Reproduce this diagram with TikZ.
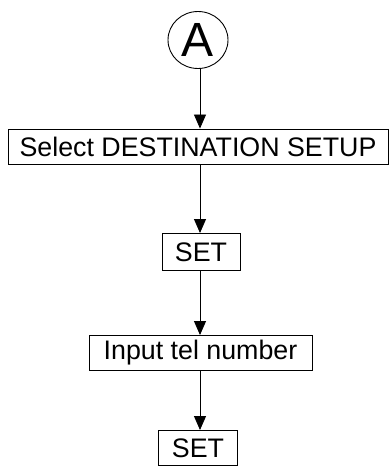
\documentclass[tikz,border=0pt]{standalone}
\usepackage{fontspec}
\setmainfont{Liberation Sans}
\usetikzlibrary{positioning,arrows.meta,shapes.geometric}

\begin{document}
\begin{tikzpicture}[x=1pt,y=1pt,
    stepbox/.style={draw,line width=0.9pt,inner sep=0pt,minimum height=35pt,font=\fontsize{26.8}{30}\selectfont},
    flow/.style={-{Triangle[width=12pt,length=14pt]},line width=0.9pt}]
    \useasboundingbox (0,0) rectangle (390,469);
    % start connector
    \node[draw,ellipse,line width=0.9pt,minimum width=60pt,minimum height=57pt,inner sep=0pt,font=\fontsize{48}{52}\selectfont] (start) at (198,429) {A};
    % steps
    \node[stepbox,minimum width=380pt] (select) at (198,322.5) {Select DESTINATION SETUP};
    \node[stepbox,minimum width=78pt,minimum height=37pt] (set1) at (201,217) {SET};
    \node[stepbox,minimum width=223pt] (input) at (200.5,116) {Input tel number};
    \node[stepbox,minimum width=79pt] (set2) at (198,21) {SET};
    \coordinate (axis) at (200,0);
    % arrows
    \draw[flow] (axis |- start.south) -- (axis |- select.north);
    \draw[flow] (axis |- select.south) -- (axis |- set1.north);
    \draw[flow] (axis |- set1.south) -- (axis |- input.north);
    \draw[flow] (axis |- input.south) -- (axis |- set2.north);
\end{tikzpicture}
\end{document}
